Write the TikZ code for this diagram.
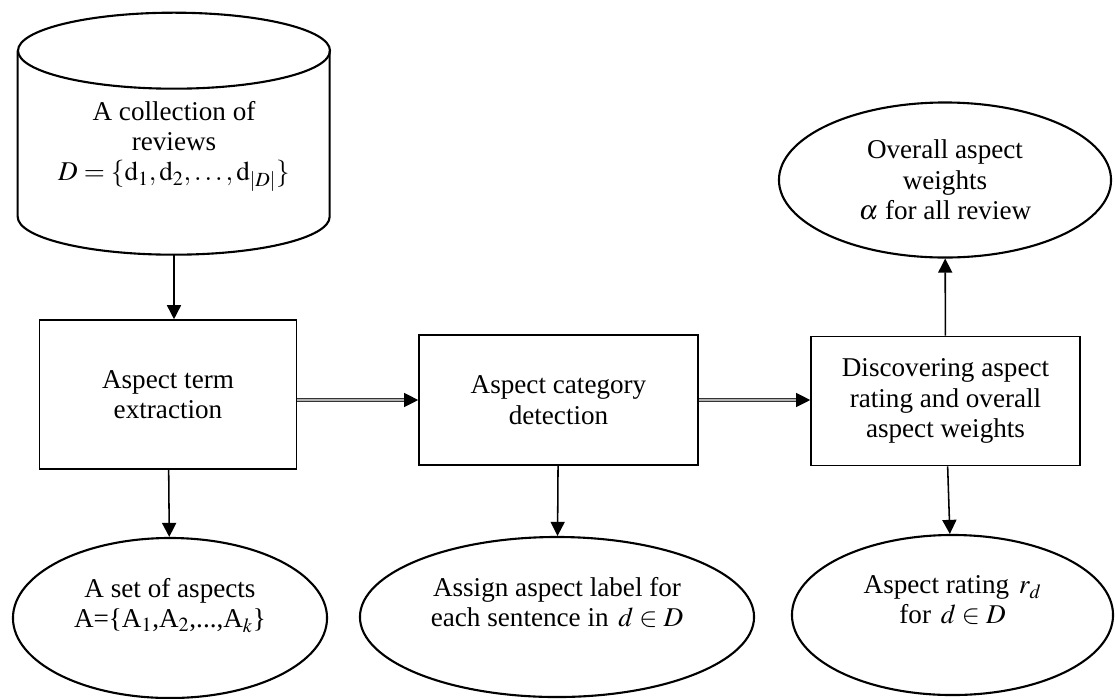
\documentclass[tikz,border=0pt]{standalone}
\usepackage{mathptmx}
\usepackage{fontspec}
\setmainfont{Liberation Serif}
\usepackage{tikz}
\usetikzlibrary{arrows.meta, shapes}

\begin{document}
\begin{tikzpicture}[x=0.025cm, y=-0.025cm]
	\tikzstyle{proc} = [ draw, rectangle, line width=1.1pt, align=center, font={\fontsize{19.3}{21.6}\selectfont}];
	\tikzstyle{data} = [ draw, ellipse, line width=1.5pt, align=center, inner sep=0pt, font={\fontsize{19.3}{21.6}\selectfont}];
	\tikzstyle{store} = [ rectangle, inner sep=0pt, font={\fontsize{19.3}{21.6}\selectfont}];
	\tikzstyle{rim} = [ line width=1.5pt ];
	\tikzstyle{point} = [ line width=1.1pt, -{Triangle[length=10pt, width=10pt]} ];
	\tikzstyle{pass} = [ line width=0.6pt, draw=black!80, double=gray!60, double distance=1.2pt, -{Triangle[length=10pt, width=10pt, fill=black, color=black]} ];

	\useasboundingbox (0,0) rectangle (1115,698);

	% input collection (drum outline around the node)
	\node[store, minimum width=7.8cm, minimum height=6.05cm] (db) at (174,134)
		{\raisebox{-12.8pt}[0pt][0pt]{\begin{tabular}{@{}c@{}}A collection of\\ reviews\\ $D=\{\mathrm{d}_1,\mathrm{d}_2,\ldots,\mathrm{d}_{|D|}\}$\end{tabular}}};
	\draw[rim] (db.north) ++(0,38) ellipse [x radius=156, y radius=38];
	\draw[rim] (db.north west) ++(0,38) -- ++(0,166) arc [start angle=180, end angle=0, x radius=156, y radius=38] -- ++(0,-166);

	% processing steps
	\node[proc, minimum width=6.425cm, minimum height=3.725cm] (term) at (168,394.5) {Aspect term\\ extraction};
	\node[proc, minimum width=6.975cm, minimum height=3.25cm] (cat) at (558.5,400) {Aspect category\\ detection};
	\node[proc, minimum width=6.725cm, minimum height=3.225cm] (rate) at (945.5,401) {Discovering aspect\\ rating and overall\\ aspect weights};

	% outputs
	\node[data, minimum width=8.3cm, minimum height=3.875cm] (weight) at (945,180) {Overall aspect\\ weights\\ $\alpha$ for all review};
	\node[data, minimum width=7.85cm, minimum height=4cm] (aspects) at (170,618) {A set of aspects\\ A=\{A$_1$,A$_2$,...,A$_k$\}\\ \mbox{}};
	\node[data, minimum width=9.85cm, minimum height=4cm] (label) at (557,617) {Assign aspect label for\\ each sentence in $\,d\in D$\\ \mbox{}};
	\node[data, minimum width=8.025cm, minimum height=4cm] (rating) at (952.5,615) {Aspect rating $\,r_d$\\ for $\,d\in D$\\ \mbox{}};

	\draw[point] (db.south) -- (db.south |- term.north);
	\draw[pass] (term.east |- cat.west) -- (cat.west);
	\draw[pass] (cat.east) -- (cat.east -| rate.west);
	\draw[point] (rate) -- (weight);
	\draw[point] (term) -- (aspects);
	\draw[point] (cat) -- (label);
	\draw[point] (rate) -- (rating);

\end{tikzpicture}
\end{document}
